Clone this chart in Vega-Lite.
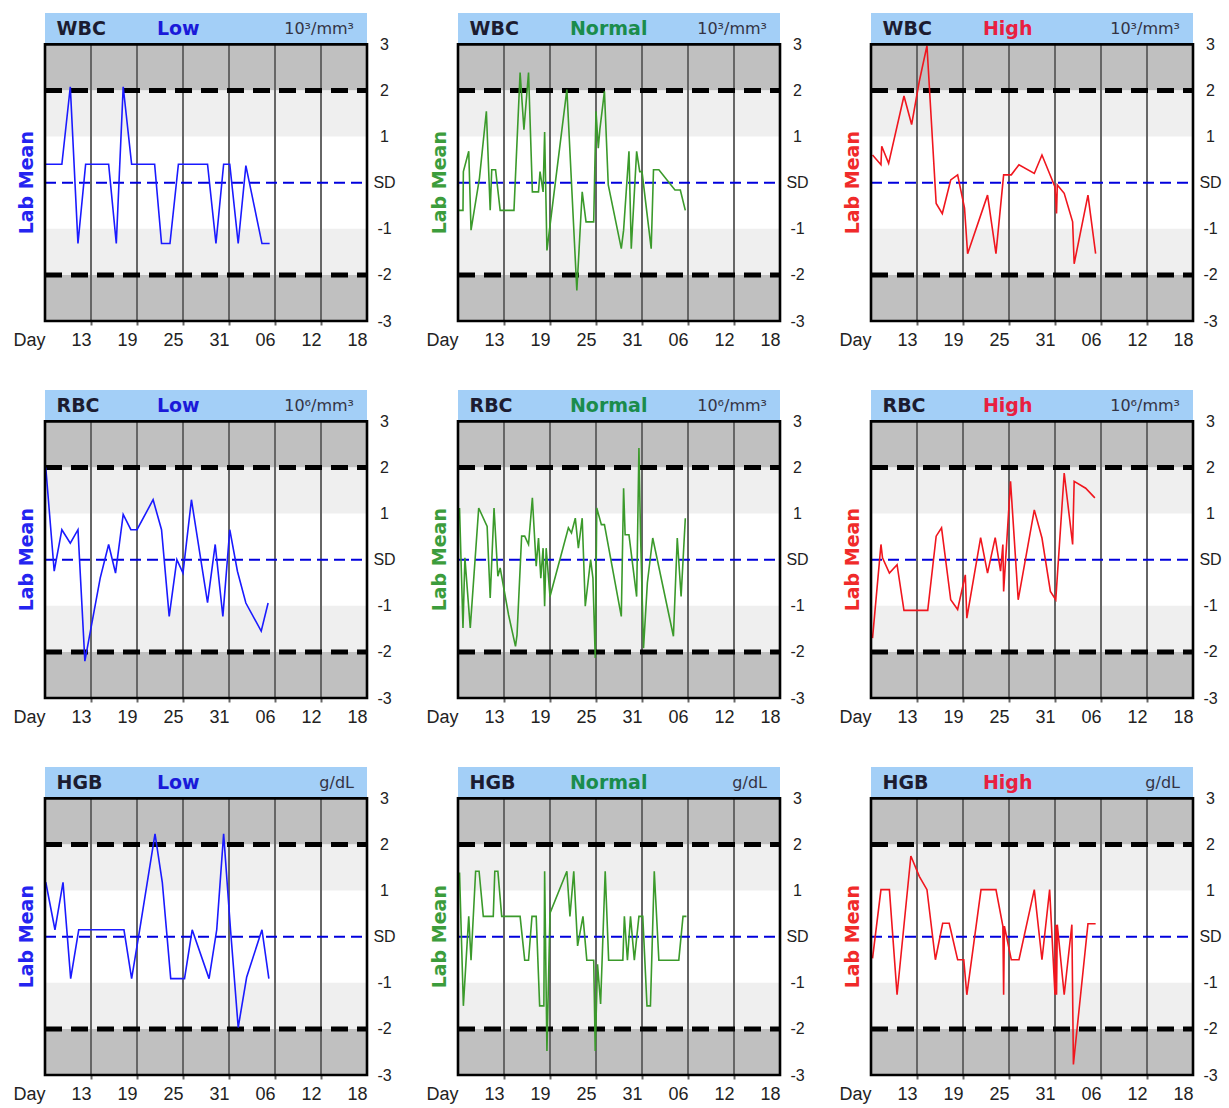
{
  "$schema": "https://vega.github.io/schema/vega-lite/v6.json",
  "padding": {"top": 13, "left": 12, "right": 2, "bottom": 2},
  "background": "white",
  "spacing": 41,
  "config": {
    "font": "Liberation Sans",
    "view": {"stroke": null},
    "axisX": {"labelAlign": "right", "labelDx": 3, "labelFontSize": 18, "labelColor": "#222222", "tickWidth": 2, "tickSize": 4, "labelPadding": 6, "labelFlush": false, "labelOverlap": false, "domain": false, "grid": false},
    "axisY": {"ticks": false, "tickSize": 0, "labelAlign": "center", "labelBaseline": "middle", "labelFontSize": 16, "labelColor": "#222222", "labelPadding": 17, "labelFlush": false, "labelOverlap": false, "domain": false, "grid": false}
  },
  "datasets": {
    "bands": [
      {"lo": 2, "hi": 3, "zone": "outer"},
      {"lo": -3, "hi": -2, "zone": "outer"},
      {"lo": 1, "hi": 2, "zone": "inner"},
      {"lo": -2, "hi": -1, "zone": "inner"}
    ],
    "days": [{"day": 13}, {"day": 19}, {"day": 25}, {"day": 31}, {"day": 37}, {"day": 43}],
    "refs": [{"sd": 2, "kind": "limit"}, {"sd": -2, "kind": "limit"}, {"sd": 0, "kind": "mean"}],
    "panels": [
      {"lab": "WBC", "level": "Low", "unit": "10³/mm³"},
      {"lab": "WBC", "level": "Normal", "unit": "10³/mm³"},
      {"lab": "WBC", "level": "High", "unit": "10³/mm³"},
      {"lab": "RBC", "level": "Low", "unit": "10⁶/mm³"},
      {"lab": "RBC", "level": "Normal", "unit": "10⁶/mm³"},
      {"lab": "RBC", "level": "High", "unit": "10⁶/mm³"},
      {"lab": "HGB", "level": "Low", "unit": "g/dL"},
      {"lab": "HGB", "level": "Normal", "unit": "g/dL"},
      {"lab": "HGB", "level": "High", "unit": "g/dL"}
    ],
    "WBC_Low": [
      {"day": 7, "z": 0.4}, {"day": 9.2, "z": 0.4}, {"day": 10.3, "z": 2.08}, {"day": 11.3, "z": -1.32}, {"day": 12.3, "z": 0.4}, {"day": 15.3, "z": 0.4}, {"day": 16.3, "z": -1.32}, {"day": 17.2, "z": 2.08}, {"day": 18.3, "z": 0.4}, {"day": 21.3, "z": 0.4}, {"day": 22.2, "z": -1.32}, {"day": 23.3, "z": -1.32}, {"day": 24.4, "z": 0.4}, {"day": 28.2, "z": 0.4}, {"day": 29.3, "z": -1.32}, {"day": 30.3, "z": 0.4}, {"day": 31.1, "z": 0.4}, {"day": 32.2, "z": -1.32}, {"day": 33.2, "z": 0.37}, {"day": 35.3, "z": -1.32}, {"day": 36.3, "z": -1.32}
    ],
    "WBC_Normal": [
      {"day": 7, "z": -0.6}, {"day": 7.65, "z": -0.6}, {"day": 7.7, "z": 0.24}, {"day": 8.4, "z": 0.68}, {"day": 8.7, "z": -1.03}, {"day": 9.8, "z": 0.1}, {"day": 10.7, "z": 1.55}, {"day": 11.2, "z": -0.6}, {"day": 11.4, "z": 0.28}, {"day": 11.9, "z": 0.28}, {"day": 12.5, "z": -0.6}, {"day": 14.3, "z": -0.6}, {"day": 15.1, "z": 2.39}, {"day": 15.6, "z": 1.15}, {"day": 16.2, "z": 2.39}, {"day": 16.7, "z": -0.2}, {"day": 17.5, "z": -0.2}, {"day": 17.7, "z": 0.24}, {"day": 18.1, "z": -0.2}, {"day": 18.3, "z": 1.1}, {"day": 18.6, "z": -1.47}, {"day": 21.2, "z": 2.02}, {"day": 22.5, "z": -2.34}, {"day": 23.2, "z": -0.2}, {"day": 23.7, "z": -0.85}, {"day": 24.7, "z": -0.85}, {"day": 25.0, "z": 1.55}, {"day": 25.3, "z": 0.75}, {"day": 25.5, "z": 1.15}, {"day": 26.1, "z": 1.98}, {"day": 26.6, "z": -0.05}, {"day": 28.3, "z": -1.43}, {"day": 28.6, "z": -1.03}, {"day": 29.3, "z": 0.68}, {"day": 29.6, "z": -1.43}, {"day": 30.3, "z": 0.68}, {"day": 30.7, "z": 0.24}, {"day": 31.0, "z": 0.24}, {"day": 32.2, "z": -1.43}, {"day": 32.5, "z": 0.28}, {"day": 33.2, "z": 0.28}, {"day": 35.3, "z": -0.16}, {"day": 36.0, "z": -0.16}, {"day": 36.65, "z": -0.6}
    ],
    "WBC_High": [
      {"day": 7.2, "z": 0.6}, {"day": 8.3, "z": 0.39}, {"day": 8.4, "z": 0.79}, {"day": 9.3, "z": 0.42}, {"day": 11.3, "z": 1.88}, {"day": 12.3, "z": 1.26}, {"day": 13.3, "z": 2.2}, {"day": 14.3, "z": 2.97}, {"day": 15.5, "z": -0.45}, {"day": 16.3, "z": -0.67}, {"day": 17.4, "z": 0.06}, {"day": 18.3, "z": 0.17}, {"day": 19.2, "z": -0.55}, {"day": 19.6, "z": -1.54}, {"day": 22.2, "z": -0.27}, {"day": 23.3, "z": -1.54}, {"day": 24.3, "z": 0.17}, {"day": 25.3, "z": 0.17}, {"day": 26.3, "z": 0.39}, {"day": 28.3, "z": 0.2}, {"day": 29.3, "z": 0.6}, {"day": 31.0, "z": -0.09}, {"day": 31.2, "z": -0.67}, {"day": 31.3, "z": -0.05}, {"day": 32.2, "z": -0.23}, {"day": 33.3, "z": -0.85}, {"day": 33.5, "z": -1.76}, {"day": 35.3, "z": -0.27}, {"day": 36.3, "z": -1.54}
    ],
    "RBC_Low": [
      {"day": 7.1, "z": 2.0}, {"day": 8.2, "z": -0.25}, {"day": 9.2, "z": 0.65}, {"day": 10.3, "z": 0.36}, {"day": 11.3, "z": 0.65}, {"day": 12.2, "z": -2.2}, {"day": 14.2, "z": -0.4}, {"day": 15.3, "z": 0.33}, {"day": 16.2, "z": -0.29}, {"day": 17.2, "z": 0.98}, {"day": 18.2, "z": 0.65}, {"day": 19.0, "z": 0.65}, {"day": 21.1, "z": 1.3}, {"day": 22.2, "z": 0.65}, {"day": 23.2, "z": -1.23}, {"day": 24.2, "z": 0.0}, {"day": 25.0, "z": -0.29}, {"day": 26.1, "z": 1.3}, {"day": 28.2, "z": -0.93}, {"day": 29.2, "z": 0.33}, {"day": 30.2, "z": -1.23}, {"day": 31.1, "z": 0.65}, {"day": 32.1, "z": -0.25}, {"day": 33.2, "z": -0.94}, {"day": 35.2, "z": -1.55}, {"day": 36.1, "z": -0.94}
    ],
    "RBC_Normal": [
      {"day": 7.2, "z": 1.12}, {"day": 7.65, "z": -1.48}, {"day": 7.9, "z": 0.04}, {"day": 8.6, "z": -1.48}, {"day": 9.7, "z": 1.12}, {"day": 10.8, "z": 0.72}, {"day": 11.2, "z": -0.83}, {"day": 11.7, "z": 1.12}, {"day": 12.2, "z": -0.36}, {"day": 12.5, "z": -0.18}, {"day": 13.6, "z": -1.2}, {"day": 14.5, "z": -1.88}, {"day": 14.7, "z": -1.63}, {"day": 15.3, "z": 0.51}, {"day": 15.7, "z": 0.51}, {"day": 16.2, "z": 0.33}, {"day": 16.7, "z": 1.34}, {"day": 17.2, "z": -0.14}, {"day": 17.5, "z": 0.47}, {"day": 17.8, "z": -0.4}, {"day": 18.1, "z": 0.25}, {"day": 18.3, "z": -1.01}, {"day": 18.5, "z": 0.25}, {"day": 19.0, "z": -0.8}, {"day": 21.4, "z": 0.69}, {"day": 21.8, "z": 0.58}, {"day": 22.3, "z": 0.9}, {"day": 22.7, "z": 0.25}, {"day": 23.2, "z": 0.9}, {"day": 23.6, "z": -1.01}, {"day": 24.3, "z": 0.0}, {"day": 24.6, "z": -0.4}, {"day": 24.9, "z": -2.13}, {"day": 25.1, "z": 1.12}, {"day": 25.7, "z": 0.76}, {"day": 26.1, "z": 0.76}, {"day": 28.3, "z": -1.23}, {"day": 28.6, "z": 1.55}, {"day": 28.8, "z": 0.54}, {"day": 29.3, "z": 0.54}, {"day": 30.3, "z": -0.8}, {"day": 30.6, "z": 2.42}, {"day": 30.8, "z": 0.6}, {"day": 31.2, "z": -1.92}, {"day": 31.7, "z": -0.5}, {"day": 32.4, "z": 0.47}, {"day": 35.1, "z": -1.66}, {"day": 35.6, "z": 0.47}, {"day": 36.1, "z": -0.8}, {"day": 36.65, "z": 0.9}
    ],
    "RBC_High": [
      {"day": 7.2, "z": -1.7}, {"day": 8.3, "z": 0.33}, {"day": 8.5, "z": 0.04}, {"day": 9.4, "z": -0.29}, {"day": 10.4, "z": -0.11}, {"day": 11.3, "z": -1.1}, {"day": 14.4, "z": -1.1}, {"day": 15.5, "z": 0.51}, {"day": 16.2, "z": 0.69}, {"day": 17.4, "z": -0.87}, {"day": 18.3, "z": -1.08}, {"day": 19.3, "z": -0.33}, {"day": 19.5, "z": -1.27}, {"day": 21.3, "z": 0.48}, {"day": 22.2, "z": -0.29}, {"day": 23.2, "z": 0.48}, {"day": 23.9, "z": -0.25}, {"day": 24.2, "z": 0.33}, {"day": 24.3, "z": -0.69}, {"day": 25.2, "z": 1.7}, {"day": 26.2, "z": -0.87}, {"day": 28.3, "z": 1.08}, {"day": 29.3, "z": 0.47}, {"day": 30.4, "z": -0.69}, {"day": 31.1, "z": -0.87}, {"day": 32.2, "z": 1.88}, {"day": 33.3, "z": 0.33}, {"day": 33.5, "z": 1.7}, {"day": 35.0, "z": 1.55}, {"day": 36.2, "z": 1.34}
    ],
    "HGB_Low": [
      {"day": 7.1, "z": 1.18}, {"day": 8.3, "z": 0.15}, {"day": 9.35, "z": 1.18}, {"day": 10.35, "z": -0.91}, {"day": 11.4, "z": 0.15}, {"day": 17.3, "z": 0.15}, {"day": 18.3, "z": -0.91}, {"day": 19.4, "z": 0.2}, {"day": 21.35, "z": 2.23}, {"day": 22.3, "z": 1.18}, {"day": 23.4, "z": -0.91}, {"day": 25.2, "z": -0.91}, {"day": 26.2, "z": 0.15}, {"day": 28.4, "z": -0.91}, {"day": 29.4, "z": 0.15}, {"day": 30.3, "z": 2.23}, {"day": 31.2, "z": 0.15}, {"day": 32.2, "z": -1.97}, {"day": 33.3, "z": -0.88}, {"day": 35.3, "z": 0.15}, {"day": 36.2, "z": -0.91}
    ],
    "HGB_Normal": [
      {"day": 7.2, "z": 1.39}, {"day": 7.7, "z": -1.5}, {"day": 8.4, "z": 0.44}, {"day": 8.7, "z": -0.51}, {"day": 9.3, "z": 1.42}, {"day": 9.75, "z": 1.42}, {"day": 10.3, "z": 0.44}, {"day": 11.6, "z": 0.44}, {"day": 11.8, "z": 1.42}, {"day": 12.2, "z": 1.42}, {"day": 12.7, "z": 0.44}, {"day": 15.1, "z": 0.44}, {"day": 15.7, "z": -0.51}, {"day": 16.2, "z": -0.51}, {"day": 16.65, "z": 0.44}, {"day": 17.2, "z": 0.44}, {"day": 17.65, "z": -1.5}, {"day": 18.2, "z": -1.5}, {"day": 18.3, "z": 1.42}, {"day": 18.6, "z": -2.48}, {"day": 19.0, "z": 0.51}, {"day": 21.2, "z": 1.42}, {"day": 21.6, "z": 0.44}, {"day": 22.1, "z": 1.42}, {"day": 22.6, "z": -0.2}, {"day": 23.3, "z": 0.44}, {"day": 23.8, "z": -0.51}, {"day": 24.7, "z": -0.51}, {"day": 24.9, "z": -2.48}, {"day": 25.2, "z": -0.6}, {"day": 25.6, "z": -1.46}, {"day": 26.2, "z": 1.42}, {"day": 26.65, "z": -0.51}, {"day": 28.5, "z": -0.51}, {"day": 28.7, "z": 0.44}, {"day": 29.1, "z": -0.51}, {"day": 29.5, "z": 0.44}, {"day": 30.0, "z": -0.51}, {"day": 30.6, "z": 0.44}, {"day": 31.1, "z": 0.44}, {"day": 31.65, "z": -1.5}, {"day": 32.1, "z": -1.5}, {"day": 32.6, "z": 1.42}, {"day": 33.2, "z": -0.51}, {"day": 35.8, "z": -0.51}, {"day": 36.35, "z": 0.44}, {"day": 36.8, "z": 0.44}
    ],
    "HGB_High": [
      {"day": 7.2, "z": -0.47}, {"day": 8.3, "z": 1.02}, {"day": 9.4, "z": 1.02}, {"day": 10.4, "z": -1.26}, {"day": 12.2, "z": 1.75}, {"day": 13.3, "z": 1.31}, {"day": 14.3, "z": 1.02}, {"day": 15.4, "z": -0.5}, {"day": 16.35, "z": 0.29}, {"day": 17.2, "z": 0.29}, {"day": 18.3, "z": -0.5}, {"day": 19.1, "z": -0.5}, {"day": 19.5, "z": -1.26}, {"day": 21.35, "z": 1.02}, {"day": 23.3, "z": 1.02}, {"day": 24.2, "z": 0.23}, {"day": 24.3, "z": -1.26}, {"day": 24.4, "z": 0.23}, {"day": 25.3, "z": -0.5}, {"day": 26.3, "z": -0.5}, {"day": 28.3, "z": 1.02}, {"day": 29.3, "z": -0.5}, {"day": 30.3, "z": 1.02}, {"day": 31.0, "z": -1.26}, {"day": 31.1, "z": 0.26}, {"day": 31.2, "z": -1.26}, {"day": 31.3, "z": 0.26}, {"day": 32.2, "z": -1.26}, {"day": 33.2, "z": 0.26}, {"day": 33.4, "z": -2.77}, {"day": 35.3, "z": 0.28}, {"day": 36.3, "z": 0.28}
    ]
  },
  "vconcat": [
    {"spacing": 29, "hconcat": [
      {"width": 322, "height": 308, "layer": [
        {"data": {"name": "bands"}, "mark": {"type": "rect"}, "encoding": {
          "x": {"datum": 7, "type": "quantitative", "scale": {"domain": [7, 49], "nice": false, "zero": false}, "axis": {"title": null, "values": [7, 13, 19, 25, 31, 37, 43, 49], "labelExpr": "datum.value == 7 ? 'Day' : datum.value == 37 ? '06' : datum.value == 43 ? '12' : datum.value == 49 ? '18' : datum.label", "tickColor": {"condition": {"test": "datum.value == 7 || datum.value == 49", "value": "transparent"}, "value": "#666666"}}},
          "x2": {"datum": 49},
          "y": {"field": "lo", "type": "quantitative", "title": null, "scale": {"domain": [-3, 3.68], "nice": false, "zero": false}, "axis": {"title": null, "orient": "right", "values": [-3, -2, -1, 0, 1, 2, 3], "labelExpr": "datum.value == 0 ? 'SD' : datum.value < 0 ? '-' + (-datum.value) : '' + datum.value"}},
          "y2": {"field": "hi"},
          "fill": {"field": "zone", "type": "nominal", "scale": {"domain": ["outer", "inner"], "range": ["#c0c0c0", "#efefef"]}, "legend": null}}},
        {"data": {"name": "days"}, "mark": {"type": "rule", "color": "#666666", "strokeWidth": 2}, "encoding": {"x": {"field": "day", "type": "quantitative", "title": null}, "y": {"datum": -3}, "y2": {"datum": 3}}},
        {"data": {"name": "refs"}, "transform": [{"filter": "datum.kind == 'limit'"}], "mark": {"type": "rule", "color": "#000000", "strokeWidth": 5, "strokeDash": [17, 9]}, "encoding": {"x": {"datum": 7}, "x2": {"datum": 49}, "y": {"field": "sd", "type": "quantitative", "title": null}}},
        {"data": {"name": "refs"}, "transform": [{"filter": "datum.kind == 'mean'"}], "mark": {"type": "rule", "color": "#0000dd", "strokeWidth": 2, "strokeDash": [11, 6]}, "encoding": {"x": {"datum": 7}, "x2": {"datum": 49}, "y": {"field": "sd", "type": "quantitative", "title": null}}},
        {"data": {"name": "WBC_Low"}, "mark": {"type": "line", "color": "#1a1aff", "strokeWidth": 1.6}, "encoding": {"x": {"field": "day", "type": "quantitative", "title": null}, "y": {"field": "z", "type": "quantitative", "title": null}}},
        {"data": {"name": "panels"}, "transform": [{"filter": "datum.lab == 'WBC' && datum.level == 'Low'"}], "layer": [
          {"mark": {"type": "rect", "color": "#a3cff7"}, "encoding": {"x": {"datum": 7}, "x2": {"datum": 49}, "y": {"datum": 3}, "y2": {"datum": 3.68}}},
          {"mark": {"type": "text", "align": "left", "baseline": "middle", "font": "DejaVu Sans", "fontSize": 19, "fontWeight": "bold", "color": "#1c1c30"}, "encoding": {"x": {"datum": 8.5}, "y": {"datum": 3.34}, "text": {"field": "lab"}}},
          {"mark": {"type": "text", "align": "left", "baseline": "middle", "font": "DejaVu Sans", "fontSize": 19, "fontWeight": "bold", "color": "#1a1ad9"}, "encoding": {"x": {"datum": 21.6}, "y": {"datum": 3.34}, "text": {"field": "level"}}},
          {"mark": {"type": "text", "align": "right", "baseline": "middle", "font": "DejaVu Sans", "fontSize": 16, "color": "#333344"}, "encoding": {"x": {"datum": 47.3}, "y": {"datum": 3.34}, "text": {"field": "unit"}}},
          {"mark": {"type": "text", "angle": 270, "align": "center", "baseline": "middle", "font": "DejaVu Sans", "fontSize": 19, "fontWeight": "bold", "color": "#2424f0"}, "encoding": {"x": {"datum": 4.65}, "y": {"datum": 0}, "text": {"value": "Lab Mean"}}},
          {"mark": {"type": "rect", "fill": "transparent", "stroke": "#000000", "strokeWidth": 2.6}, "encoding": {"x": {"datum": 7}, "x2": {"datum": 49}, "y": {"datum": -3}, "y2": {"datum": 3}}}
        ]}
      ]},
      {"width": 322, "height": 308, "layer": [
        {"data": {"name": "bands"}, "mark": {"type": "rect"}, "encoding": {
          "x": {"datum": 7, "type": "quantitative", "scale": {"domain": [7, 49], "nice": false, "zero": false}, "axis": {"title": null, "values": [7, 13, 19, 25, 31, 37, 43, 49], "labelExpr": "datum.value == 7 ? 'Day' : datum.value == 37 ? '06' : datum.value == 43 ? '12' : datum.value == 49 ? '18' : datum.label", "tickColor": {"condition": {"test": "datum.value == 7 || datum.value == 49", "value": "transparent"}, "value": "#666666"}}},
          "x2": {"datum": 49},
          "y": {"field": "lo", "type": "quantitative", "title": null, "scale": {"domain": [-3, 3.68], "nice": false, "zero": false}, "axis": {"title": null, "orient": "right", "values": [-3, -2, -1, 0, 1, 2, 3], "labelExpr": "datum.value == 0 ? 'SD' : datum.value < 0 ? '-' + (-datum.value) : '' + datum.value"}},
          "y2": {"field": "hi"},
          "fill": {"field": "zone", "type": "nominal", "scale": {"domain": ["outer", "inner"], "range": ["#c0c0c0", "#efefef"]}, "legend": null}}},
        {"data": {"name": "days"}, "mark": {"type": "rule", "color": "#666666", "strokeWidth": 2}, "encoding": {"x": {"field": "day", "type": "quantitative", "title": null}, "y": {"datum": -3}, "y2": {"datum": 3}}},
        {"data": {"name": "refs"}, "transform": [{"filter": "datum.kind == 'limit'"}], "mark": {"type": "rule", "color": "#000000", "strokeWidth": 5, "strokeDash": [17, 9]}, "encoding": {"x": {"datum": 7}, "x2": {"datum": 49}, "y": {"field": "sd", "type": "quantitative", "title": null}}},
        {"data": {"name": "refs"}, "transform": [{"filter": "datum.kind == 'mean'"}], "mark": {"type": "rule", "color": "#0000dd", "strokeWidth": 2, "strokeDash": [11, 6]}, "encoding": {"x": {"datum": 7}, "x2": {"datum": 49}, "y": {"field": "sd", "type": "quantitative", "title": null}}},
        {"data": {"name": "WBC_Normal"}, "mark": {"type": "line", "color": "#3b9a2b", "strokeWidth": 1.6}, "encoding": {"x": {"field": "day", "type": "quantitative", "title": null}, "y": {"field": "z", "type": "quantitative", "title": null}}},
        {"data": {"name": "panels"}, "transform": [{"filter": "datum.lab == 'WBC' && datum.level == 'Normal'"}], "layer": [
          {"mark": {"type": "rect", "color": "#a3cff7"}, "encoding": {"x": {"datum": 7}, "x2": {"datum": 49}, "y": {"datum": 3}, "y2": {"datum": 3.68}}},
          {"mark": {"type": "text", "align": "left", "baseline": "middle", "font": "DejaVu Sans", "fontSize": 19, "fontWeight": "bold", "color": "#1c1c30"}, "encoding": {"x": {"datum": 8.5}, "y": {"datum": 3.34}, "text": {"field": "lab"}}},
          {"mark": {"type": "text", "align": "left", "baseline": "middle", "font": "DejaVu Sans", "fontSize": 19, "fontWeight": "bold", "color": "#1a8c4c"}, "encoding": {"x": {"datum": 21.6}, "y": {"datum": 3.34}, "text": {"field": "level"}}},
          {"mark": {"type": "text", "align": "right", "baseline": "middle", "font": "DejaVu Sans", "fontSize": 16, "color": "#333344"}, "encoding": {"x": {"datum": 47.3}, "y": {"datum": 3.34}, "text": {"field": "unit"}}},
          {"mark": {"type": "text", "angle": 270, "align": "center", "baseline": "middle", "font": "DejaVu Sans", "fontSize": 19, "fontWeight": "bold", "color": "#3c9c3c"}, "encoding": {"x": {"datum": 4.65}, "y": {"datum": 0}, "text": {"value": "Lab Mean"}}},
          {"mark": {"type": "rect", "fill": "transparent", "stroke": "#000000", "strokeWidth": 2.6}, "encoding": {"x": {"datum": 7}, "x2": {"datum": 49}, "y": {"datum": -3}, "y2": {"datum": 3}}}
        ]}
      ]},
      {"width": 322, "height": 308, "layer": [
        {"data": {"name": "bands"}, "mark": {"type": "rect"}, "encoding": {
          "x": {"datum": 7, "type": "quantitative", "scale": {"domain": [7, 49], "nice": false, "zero": false}, "axis": {"title": null, "values": [7, 13, 19, 25, 31, 37, 43, 49], "labelExpr": "datum.value == 7 ? 'Day' : datum.value == 37 ? '06' : datum.value == 43 ? '12' : datum.value == 49 ? '18' : datum.label", "tickColor": {"condition": {"test": "datum.value == 7 || datum.value == 49", "value": "transparent"}, "value": "#666666"}}},
          "x2": {"datum": 49},
          "y": {"field": "lo", "type": "quantitative", "title": null, "scale": {"domain": [-3, 3.68], "nice": false, "zero": false}, "axis": {"title": null, "orient": "right", "values": [-3, -2, -1, 0, 1, 2, 3], "labelExpr": "datum.value == 0 ? 'SD' : datum.value < 0 ? '-' + (-datum.value) : '' + datum.value"}},
          "y2": {"field": "hi"},
          "fill": {"field": "zone", "type": "nominal", "scale": {"domain": ["outer", "inner"], "range": ["#c0c0c0", "#efefef"]}, "legend": null}}},
        {"data": {"name": "days"}, "mark": {"type": "rule", "color": "#666666", "strokeWidth": 2}, "encoding": {"x": {"field": "day", "type": "quantitative", "title": null}, "y": {"datum": -3}, "y2": {"datum": 3}}},
        {"data": {"name": "refs"}, "transform": [{"filter": "datum.kind == 'limit'"}], "mark": {"type": "rule", "color": "#000000", "strokeWidth": 5, "strokeDash": [17, 9]}, "encoding": {"x": {"datum": 7}, "x2": {"datum": 49}, "y": {"field": "sd", "type": "quantitative", "title": null}}},
        {"data": {"name": "refs"}, "transform": [{"filter": "datum.kind == 'mean'"}], "mark": {"type": "rule", "color": "#0000dd", "strokeWidth": 2, "strokeDash": [11, 6]}, "encoding": {"x": {"datum": 7}, "x2": {"datum": 49}, "y": {"field": "sd", "type": "quantitative", "title": null}}},
        {"data": {"name": "WBC_High"}, "mark": {"type": "line", "color": "#f0161e", "strokeWidth": 1.6}, "encoding": {"x": {"field": "day", "type": "quantitative", "title": null}, "y": {"field": "z", "type": "quantitative", "title": null}}},
        {"data": {"name": "panels"}, "transform": [{"filter": "datum.lab == 'WBC' && datum.level == 'High'"}], "layer": [
          {"mark": {"type": "rect", "color": "#a3cff7"}, "encoding": {"x": {"datum": 7}, "x2": {"datum": 49}, "y": {"datum": 3}, "y2": {"datum": 3.68}}},
          {"mark": {"type": "text", "align": "left", "baseline": "middle", "font": "DejaVu Sans", "fontSize": 19, "fontWeight": "bold", "color": "#1c1c30"}, "encoding": {"x": {"datum": 8.5}, "y": {"datum": 3.34}, "text": {"field": "lab"}}},
          {"mark": {"type": "text", "align": "left", "baseline": "middle", "font": "DejaVu Sans", "fontSize": 19, "fontWeight": "bold", "color": "#e82040"}, "encoding": {"x": {"datum": 21.6}, "y": {"datum": 3.34}, "text": {"field": "level"}}},
          {"mark": {"type": "text", "align": "right", "baseline": "middle", "font": "DejaVu Sans", "fontSize": 16, "color": "#333344"}, "encoding": {"x": {"datum": 47.3}, "y": {"datum": 3.34}, "text": {"field": "unit"}}},
          {"mark": {"type": "text", "angle": 270, "align": "center", "baseline": "middle", "font": "DejaVu Sans", "fontSize": 19, "fontWeight": "bold", "color": "#f02a2a"}, "encoding": {"x": {"datum": 4.65}, "y": {"datum": 0}, "text": {"value": "Lab Mean"}}},
          {"mark": {"type": "rect", "fill": "transparent", "stroke": "#000000", "strokeWidth": 2.6}, "encoding": {"x": {"datum": 7}, "x2": {"datum": 49}, "y": {"datum": -3}, "y2": {"datum": 3}}}
        ]}
      ]}
    ]},
    {"spacing": 29, "hconcat": [
      {"width": 322, "height": 308, "layer": [
        {"data": {"name": "bands"}, "mark": {"type": "rect"}, "encoding": {
          "x": {"datum": 7, "type": "quantitative", "scale": {"domain": [7, 49], "nice": false, "zero": false}, "axis": {"title": null, "values": [7, 13, 19, 25, 31, 37, 43, 49], "labelExpr": "datum.value == 7 ? 'Day' : datum.value == 37 ? '06' : datum.value == 43 ? '12' : datum.value == 49 ? '18' : datum.label", "tickColor": {"condition": {"test": "datum.value == 7 || datum.value == 49", "value": "transparent"}, "value": "#666666"}}},
          "x2": {"datum": 49},
          "y": {"field": "lo", "type": "quantitative", "title": null, "scale": {"domain": [-3, 3.68], "nice": false, "zero": false}, "axis": {"title": null, "orient": "right", "values": [-3, -2, -1, 0, 1, 2, 3], "labelExpr": "datum.value == 0 ? 'SD' : datum.value < 0 ? '-' + (-datum.value) : '' + datum.value"}},
          "y2": {"field": "hi"},
          "fill": {"field": "zone", "type": "nominal", "scale": {"domain": ["outer", "inner"], "range": ["#c0c0c0", "#efefef"]}, "legend": null}}},
        {"data": {"name": "days"}, "mark": {"type": "rule", "color": "#666666", "strokeWidth": 2}, "encoding": {"x": {"field": "day", "type": "quantitative", "title": null}, "y": {"datum": -3}, "y2": {"datum": 3}}},
        {"data": {"name": "refs"}, "transform": [{"filter": "datum.kind == 'limit'"}], "mark": {"type": "rule", "color": "#000000", "strokeWidth": 5, "strokeDash": [17, 9]}, "encoding": {"x": {"datum": 7}, "x2": {"datum": 49}, "y": {"field": "sd", "type": "quantitative", "title": null}}},
        {"data": {"name": "refs"}, "transform": [{"filter": "datum.kind == 'mean'"}], "mark": {"type": "rule", "color": "#0000dd", "strokeWidth": 2, "strokeDash": [11, 6]}, "encoding": {"x": {"datum": 7}, "x2": {"datum": 49}, "y": {"field": "sd", "type": "quantitative", "title": null}}},
        {"data": {"name": "RBC_Low"}, "mark": {"type": "line", "color": "#1a1aff", "strokeWidth": 1.6}, "encoding": {"x": {"field": "day", "type": "quantitative", "title": null}, "y": {"field": "z", "type": "quantitative", "title": null}}},
        {"data": {"name": "panels"}, "transform": [{"filter": "datum.lab == 'RBC' && datum.level == 'Low'"}], "layer": [
          {"mark": {"type": "rect", "color": "#a3cff7"}, "encoding": {"x": {"datum": 7}, "x2": {"datum": 49}, "y": {"datum": 3}, "y2": {"datum": 3.68}}},
          {"mark": {"type": "text", "align": "left", "baseline": "middle", "font": "DejaVu Sans", "fontSize": 19, "fontWeight": "bold", "color": "#1c1c30"}, "encoding": {"x": {"datum": 8.5}, "y": {"datum": 3.34}, "text": {"field": "lab"}}},
          {"mark": {"type": "text", "align": "left", "baseline": "middle", "font": "DejaVu Sans", "fontSize": 19, "fontWeight": "bold", "color": "#1a1ad9"}, "encoding": {"x": {"datum": 21.6}, "y": {"datum": 3.34}, "text": {"field": "level"}}},
          {"mark": {"type": "text", "align": "right", "baseline": "middle", "font": "DejaVu Sans", "fontSize": 16, "color": "#333344"}, "encoding": {"x": {"datum": 47.3}, "y": {"datum": 3.34}, "text": {"field": "unit"}}},
          {"mark": {"type": "text", "angle": 270, "align": "center", "baseline": "middle", "font": "DejaVu Sans", "fontSize": 19, "fontWeight": "bold", "color": "#2424f0"}, "encoding": {"x": {"datum": 4.65}, "y": {"datum": 0}, "text": {"value": "Lab Mean"}}},
          {"mark": {"type": "rect", "fill": "transparent", "stroke": "#000000", "strokeWidth": 2.6}, "encoding": {"x": {"datum": 7}, "x2": {"datum": 49}, "y": {"datum": -3}, "y2": {"datum": 3}}}
        ]}
      ]},
      {"width": 322, "height": 308, "layer": [
        {"data": {"name": "bands"}, "mark": {"type": "rect"}, "encoding": {
          "x": {"datum": 7, "type": "quantitative", "scale": {"domain": [7, 49], "nice": false, "zero": false}, "axis": {"title": null, "values": [7, 13, 19, 25, 31, 37, 43, 49], "labelExpr": "datum.value == 7 ? 'Day' : datum.value == 37 ? '06' : datum.value == 43 ? '12' : datum.value == 49 ? '18' : datum.label", "tickColor": {"condition": {"test": "datum.value == 7 || datum.value == 49", "value": "transparent"}, "value": "#666666"}}},
          "x2": {"datum": 49},
          "y": {"field": "lo", "type": "quantitative", "title": null, "scale": {"domain": [-3, 3.68], "nice": false, "zero": false}, "axis": {"title": null, "orient": "right", "values": [-3, -2, -1, 0, 1, 2, 3], "labelExpr": "datum.value == 0 ? 'SD' : datum.value < 0 ? '-' + (-datum.value) : '' + datum.value"}},
          "y2": {"field": "hi"},
          "fill": {"field": "zone", "type": "nominal", "scale": {"domain": ["outer", "inner"], "range": ["#c0c0c0", "#efefef"]}, "legend": null}}},
        {"data": {"name": "days"}, "mark": {"type": "rule", "color": "#666666", "strokeWidth": 2}, "encoding": {"x": {"field": "day", "type": "quantitative", "title": null}, "y": {"datum": -3}, "y2": {"datum": 3}}},
        {"data": {"name": "refs"}, "transform": [{"filter": "datum.kind == 'limit'"}], "mark": {"type": "rule", "color": "#000000", "strokeWidth": 5, "strokeDash": [17, 9]}, "encoding": {"x": {"datum": 7}, "x2": {"datum": 49}, "y": {"field": "sd", "type": "quantitative", "title": null}}},
        {"data": {"name": "refs"}, "transform": [{"filter": "datum.kind == 'mean'"}], "mark": {"type": "rule", "color": "#0000dd", "strokeWidth": 2, "strokeDash": [11, 6]}, "encoding": {"x": {"datum": 7}, "x2": {"datum": 49}, "y": {"field": "sd", "type": "quantitative", "title": null}}},
        {"data": {"name": "RBC_Normal"}, "mark": {"type": "line", "color": "#3b9a2b", "strokeWidth": 1.6}, "encoding": {"x": {"field": "day", "type": "quantitative", "title": null}, "y": {"field": "z", "type": "quantitative", "title": null}}},
        {"data": {"name": "panels"}, "transform": [{"filter": "datum.lab == 'RBC' && datum.level == 'Normal'"}], "layer": [
          {"mark": {"type": "rect", "color": "#a3cff7"}, "encoding": {"x": {"datum": 7}, "x2": {"datum": 49}, "y": {"datum": 3}, "y2": {"datum": 3.68}}},
          {"mark": {"type": "text", "align": "left", "baseline": "middle", "font": "DejaVu Sans", "fontSize": 19, "fontWeight": "bold", "color": "#1c1c30"}, "encoding": {"x": {"datum": 8.5}, "y": {"datum": 3.34}, "text": {"field": "lab"}}},
          {"mark": {"type": "text", "align": "left", "baseline": "middle", "font": "DejaVu Sans", "fontSize": 19, "fontWeight": "bold", "color": "#1a8c4c"}, "encoding": {"x": {"datum": 21.6}, "y": {"datum": 3.34}, "text": {"field": "level"}}},
          {"mark": {"type": "text", "align": "right", "baseline": "middle", "font": "DejaVu Sans", "fontSize": 16, "color": "#333344"}, "encoding": {"x": {"datum": 47.3}, "y": {"datum": 3.34}, "text": {"field": "unit"}}},
          {"mark": {"type": "text", "angle": 270, "align": "center", "baseline": "middle", "font": "DejaVu Sans", "fontSize": 19, "fontWeight": "bold", "color": "#3c9c3c"}, "encoding": {"x": {"datum": 4.65}, "y": {"datum": 0}, "text": {"value": "Lab Mean"}}},
          {"mark": {"type": "rect", "fill": "transparent", "stroke": "#000000", "strokeWidth": 2.6}, "encoding": {"x": {"datum": 7}, "x2": {"datum": 49}, "y": {"datum": -3}, "y2": {"datum": 3}}}
        ]}
      ]},
      {"width": 322, "height": 308, "layer": [
        {"data": {"name": "bands"}, "mark": {"type": "rect"}, "encoding": {
          "x": {"datum": 7, "type": "quantitative", "scale": {"domain": [7, 49], "nice": false, "zero": false}, "axis": {"title": null, "values": [7, 13, 19, 25, 31, 37, 43, 49], "labelExpr": "datum.value == 7 ? 'Day' : datum.value == 37 ? '06' : datum.value == 43 ? '12' : datum.value == 49 ? '18' : datum.label", "tickColor": {"condition": {"test": "datum.value == 7 || datum.value == 49", "value": "transparent"}, "value": "#666666"}}},
          "x2": {"datum": 49},
          "y": {"field": "lo", "type": "quantitative", "title": null, "scale": {"domain": [-3, 3.68], "nice": false, "zero": false}, "axis": {"title": null, "orient": "right", "values": [-3, -2, -1, 0, 1, 2, 3], "labelExpr": "datum.value == 0 ? 'SD' : datum.value < 0 ? '-' + (-datum.value) : '' + datum.value"}},
          "y2": {"field": "hi"},
          "fill": {"field": "zone", "type": "nominal", "scale": {"domain": ["outer", "inner"], "range": ["#c0c0c0", "#efefef"]}, "legend": null}}},
        {"data": {"name": "days"}, "mark": {"type": "rule", "color": "#666666", "strokeWidth": 2}, "encoding": {"x": {"field": "day", "type": "quantitative", "title": null}, "y": {"datum": -3}, "y2": {"datum": 3}}},
        {"data": {"name": "refs"}, "transform": [{"filter": "datum.kind == 'limit'"}], "mark": {"type": "rule", "color": "#000000", "strokeWidth": 5, "strokeDash": [17, 9]}, "encoding": {"x": {"datum": 7}, "x2": {"datum": 49}, "y": {"field": "sd", "type": "quantitative", "title": null}}},
        {"data": {"name": "refs"}, "transform": [{"filter": "datum.kind == 'mean'"}], "mark": {"type": "rule", "color": "#0000dd", "strokeWidth": 2, "strokeDash": [11, 6]}, "encoding": {"x": {"datum": 7}, "x2": {"datum": 49}, "y": {"field": "sd", "type": "quantitative", "title": null}}},
        {"data": {"name": "RBC_High"}, "mark": {"type": "line", "color": "#f0161e", "strokeWidth": 1.6}, "encoding": {"x": {"field": "day", "type": "quantitative", "title": null}, "y": {"field": "z", "type": "quantitative", "title": null}}},
        {"data": {"name": "panels"}, "transform": [{"filter": "datum.lab == 'RBC' && datum.level == 'High'"}], "layer": [
          {"mark": {"type": "rect", "color": "#a3cff7"}, "encoding": {"x": {"datum": 7}, "x2": {"datum": 49}, "y": {"datum": 3}, "y2": {"datum": 3.68}}},
          {"mark": {"type": "text", "align": "left", "baseline": "middle", "font": "DejaVu Sans", "fontSize": 19, "fontWeight": "bold", "color": "#1c1c30"}, "encoding": {"x": {"datum": 8.5}, "y": {"datum": 3.34}, "text": {"field": "lab"}}},
          {"mark": {"type": "text", "align": "left", "baseline": "middle", "font": "DejaVu Sans", "fontSize": 19, "fontWeight": "bold", "color": "#e82040"}, "encoding": {"x": {"datum": 21.6}, "y": {"datum": 3.34}, "text": {"field": "level"}}},
          {"mark": {"type": "text", "align": "right", "baseline": "middle", "font": "DejaVu Sans", "fontSize": 16, "color": "#333344"}, "encoding": {"x": {"datum": 47.3}, "y": {"datum": 3.34}, "text": {"field": "unit"}}},
          {"mark": {"type": "text", "angle": 270, "align": "center", "baseline": "middle", "font": "DejaVu Sans", "fontSize": 19, "fontWeight": "bold", "color": "#f02a2a"}, "encoding": {"x": {"datum": 4.65}, "y": {"datum": 0}, "text": {"value": "Lab Mean"}}},
          {"mark": {"type": "rect", "fill": "transparent", "stroke": "#000000", "strokeWidth": 2.6}, "encoding": {"x": {"datum": 7}, "x2": {"datum": 49}, "y": {"datum": -3}, "y2": {"datum": 3}}}
        ]}
      ]}
    ]},
    {"spacing": 29, "hconcat": [
      {"width": 322, "height": 308, "layer": [
        {"data": {"name": "bands"}, "mark": {"type": "rect"}, "encoding": {
          "x": {"datum": 7, "type": "quantitative", "scale": {"domain": [7, 49], "nice": false, "zero": false}, "axis": {"title": null, "values": [7, 13, 19, 25, 31, 37, 43, 49], "labelExpr": "datum.value == 7 ? 'Day' : datum.value == 37 ? '06' : datum.value == 43 ? '12' : datum.value == 49 ? '18' : datum.label", "tickColor": {"condition": {"test": "datum.value == 7 || datum.value == 49", "value": "transparent"}, "value": "#666666"}}},
          "x2": {"datum": 49},
          "y": {"field": "lo", "type": "quantitative", "title": null, "scale": {"domain": [-3, 3.68], "nice": false, "zero": false}, "axis": {"title": null, "orient": "right", "values": [-3, -2, -1, 0, 1, 2, 3], "labelExpr": "datum.value == 0 ? 'SD' : datum.value < 0 ? '-' + (-datum.value) : '' + datum.value"}},
          "y2": {"field": "hi"},
          "fill": {"field": "zone", "type": "nominal", "scale": {"domain": ["outer", "inner"], "range": ["#c0c0c0", "#efefef"]}, "legend": null}}},
        {"data": {"name": "days"}, "mark": {"type": "rule", "color": "#666666", "strokeWidth": 2}, "encoding": {"x": {"field": "day", "type": "quantitative", "title": null}, "y": {"datum": -3}, "y2": {"datum": 3}}},
        {"data": {"name": "refs"}, "transform": [{"filter": "datum.kind == 'limit'"}], "mark": {"type": "rule", "color": "#000000", "strokeWidth": 5, "strokeDash": [17, 9]}, "encoding": {"x": {"datum": 7}, "x2": {"datum": 49}, "y": {"field": "sd", "type": "quantitative", "title": null}}},
        {"data": {"name": "refs"}, "transform": [{"filter": "datum.kind == 'mean'"}], "mark": {"type": "rule", "color": "#0000dd", "strokeWidth": 2, "strokeDash": [11, 6]}, "encoding": {"x": {"datum": 7}, "x2": {"datum": 49}, "y": {"field": "sd", "type": "quantitative", "title": null}}},
        {"data": {"name": "HGB_Low"}, "mark": {"type": "line", "color": "#1a1aff", "strokeWidth": 1.6}, "encoding": {"x": {"field": "day", "type": "quantitative", "title": null}, "y": {"field": "z", "type": "quantitative", "title": null}}},
        {"data": {"name": "panels"}, "transform": [{"filter": "datum.lab == 'HGB' && datum.level == 'Low'"}], "layer": [
          {"mark": {"type": "rect", "color": "#a3cff7"}, "encoding": {"x": {"datum": 7}, "x2": {"datum": 49}, "y": {"datum": 3}, "y2": {"datum": 3.68}}},
          {"mark": {"type": "text", "align": "left", "baseline": "middle", "font": "DejaVu Sans", "fontSize": 19, "fontWeight": "bold", "color": "#1c1c30"}, "encoding": {"x": {"datum": 8.5}, "y": {"datum": 3.34}, "text": {"field": "lab"}}},
          {"mark": {"type": "text", "align": "left", "baseline": "middle", "font": "DejaVu Sans", "fontSize": 19, "fontWeight": "bold", "color": "#1a1ad9"}, "encoding": {"x": {"datum": 21.6}, "y": {"datum": 3.34}, "text": {"field": "level"}}},
          {"mark": {"type": "text", "align": "right", "baseline": "middle", "font": "DejaVu Sans", "fontSize": 16, "color": "#333344"}, "encoding": {"x": {"datum": 47.3}, "y": {"datum": 3.34}, "text": {"field": "unit"}}},
          {"mark": {"type": "text", "angle": 270, "align": "center", "baseline": "middle", "font": "DejaVu Sans", "fontSize": 19, "fontWeight": "bold", "color": "#2424f0"}, "encoding": {"x": {"datum": 4.65}, "y": {"datum": 0}, "text": {"value": "Lab Mean"}}},
          {"mark": {"type": "rect", "fill": "transparent", "stroke": "#000000", "strokeWidth": 2.6}, "encoding": {"x": {"datum": 7}, "x2": {"datum": 49}, "y": {"datum": -3}, "y2": {"datum": 3}}}
        ]}
      ]},
      {"width": 322, "height": 308, "layer": [
        {"data": {"name": "bands"}, "mark": {"type": "rect"}, "encoding": {
          "x": {"datum": 7, "type": "quantitative", "scale": {"domain": [7, 49], "nice": false, "zero": false}, "axis": {"title": null, "values": [7, 13, 19, 25, 31, 37, 43, 49], "labelExpr": "datum.value == 7 ? 'Day' : datum.value == 37 ? '06' : datum.value == 43 ? '12' : datum.value == 49 ? '18' : datum.label", "tickColor": {"condition": {"test": "datum.value == 7 || datum.value == 49", "value": "transparent"}, "value": "#666666"}}},
          "x2": {"datum": 49},
          "y": {"field": "lo", "type": "quantitative", "title": null, "scale": {"domain": [-3, 3.68], "nice": false, "zero": false}, "axis": {"title": null, "orient": "right", "values": [-3, -2, -1, 0, 1, 2, 3], "labelExpr": "datum.value == 0 ? 'SD' : datum.value < 0 ? '-' + (-datum.value) : '' + datum.value"}},
          "y2": {"field": "hi"},
          "fill": {"field": "zone", "type": "nominal", "scale": {"domain": ["outer", "inner"], "range": ["#c0c0c0", "#efefef"]}, "legend": null}}},
        {"data": {"name": "days"}, "mark": {"type": "rule", "color": "#666666", "strokeWidth": 2}, "encoding": {"x": {"field": "day", "type": "quantitative", "title": null}, "y": {"datum": -3}, "y2": {"datum": 3}}},
        {"data": {"name": "refs"}, "transform": [{"filter": "datum.kind == 'limit'"}], "mark": {"type": "rule", "color": "#000000", "strokeWidth": 5, "strokeDash": [17, 9]}, "encoding": {"x": {"datum": 7}, "x2": {"datum": 49}, "y": {"field": "sd", "type": "quantitative", "title": null}}},
        {"data": {"name": "refs"}, "transform": [{"filter": "datum.kind == 'mean'"}], "mark": {"type": "rule", "color": "#0000dd", "strokeWidth": 2, "strokeDash": [11, 6]}, "encoding": {"x": {"datum": 7}, "x2": {"datum": 49}, "y": {"field": "sd", "type": "quantitative", "title": null}}},
        {"data": {"name": "HGB_Normal"}, "mark": {"type": "line", "color": "#3b9a2b", "strokeWidth": 1.6}, "encoding": {"x": {"field": "day", "type": "quantitative", "title": null}, "y": {"field": "z", "type": "quantitative", "title": null}}},
        {"data": {"name": "panels"}, "transform": [{"filter": "datum.lab == 'HGB' && datum.level == 'Normal'"}], "layer": [
          {"mark": {"type": "rect", "color": "#a3cff7"}, "encoding": {"x": {"datum": 7}, "x2": {"datum": 49}, "y": {"datum": 3}, "y2": {"datum": 3.68}}},
          {"mark": {"type": "text", "align": "left", "baseline": "middle", "font": "DejaVu Sans", "fontSize": 19, "fontWeight": "bold", "color": "#1c1c30"}, "encoding": {"x": {"datum": 8.5}, "y": {"datum": 3.34}, "text": {"field": "lab"}}},
          {"mark": {"type": "text", "align": "left", "baseline": "middle", "font": "DejaVu Sans", "fontSize": 19, "fontWeight": "bold", "color": "#1a8c4c"}, "encoding": {"x": {"datum": 21.6}, "y": {"datum": 3.34}, "text": {"field": "level"}}},
          {"mark": {"type": "text", "align": "right", "baseline": "middle", "font": "DejaVu Sans", "fontSize": 16, "color": "#333344"}, "encoding": {"x": {"datum": 47.3}, "y": {"datum": 3.34}, "text": {"field": "unit"}}},
          {"mark": {"type": "text", "angle": 270, "align": "center", "baseline": "middle", "font": "DejaVu Sans", "fontSize": 19, "fontWeight": "bold", "color": "#3c9c3c"}, "encoding": {"x": {"datum": 4.65}, "y": {"datum": 0}, "text": {"value": "Lab Mean"}}},
          {"mark": {"type": "rect", "fill": "transparent", "stroke": "#000000", "strokeWidth": 2.6}, "encoding": {"x": {"datum": 7}, "x2": {"datum": 49}, "y": {"datum": -3}, "y2": {"datum": 3}}}
        ]}
      ]},
      {"width": 322, "height": 308, "layer": [
        {"data": {"name": "bands"}, "mark": {"type": "rect"}, "encoding": {
          "x": {"datum": 7, "type": "quantitative", "scale": {"domain": [7, 49], "nice": false, "zero": false}, "axis": {"title": null, "values": [7, 13, 19, 25, 31, 37, 43, 49], "labelExpr": "datum.value == 7 ? 'Day' : datum.value == 37 ? '06' : datum.value == 43 ? '12' : datum.value == 49 ? '18' : datum.label", "tickColor": {"condition": {"test": "datum.value == 7 || datum.value == 49", "value": "transparent"}, "value": "#666666"}}},
          "x2": {"datum": 49},
          "y": {"field": "lo", "type": "quantitative", "title": null, "scale": {"domain": [-3, 3.68], "nice": false, "zero": false}, "axis": {"title": null, "orient": "right", "values": [-3, -2, -1, 0, 1, 2, 3], "labelExpr": "datum.value == 0 ? 'SD' : datum.value < 0 ? '-' + (-datum.value) : '' + datum.value"}},
          "y2": {"field": "hi"},
          "fill": {"field": "zone", "type": "nominal", "scale": {"domain": ["outer", "inner"], "range": ["#c0c0c0", "#efefef"]}, "legend": null}}},
        {"data": {"name": "days"}, "mark": {"type": "rule", "color": "#666666", "strokeWidth": 2}, "encoding": {"x": {"field": "day", "type": "quantitative", "title": null}, "y": {"datum": -3}, "y2": {"datum": 3}}},
        {"data": {"name": "refs"}, "transform": [{"filter": "datum.kind == 'limit'"}], "mark": {"type": "rule", "color": "#000000", "strokeWidth": 5, "strokeDash": [17, 9]}, "encoding": {"x": {"datum": 7}, "x2": {"datum": 49}, "y": {"field": "sd", "type": "quantitative", "title": null}}},
        {"data": {"name": "refs"}, "transform": [{"filter": "datum.kind == 'mean'"}], "mark": {"type": "rule", "color": "#0000dd", "strokeWidth": 2, "strokeDash": [11, 6]}, "encoding": {"x": {"datum": 7}, "x2": {"datum": 49}, "y": {"field": "sd", "type": "quantitative", "title": null}}},
        {"data": {"name": "HGB_High"}, "mark": {"type": "line", "color": "#f0161e", "strokeWidth": 1.6}, "encoding": {"x": {"field": "day", "type": "quantitative", "title": null}, "y": {"field": "z", "type": "quantitative", "title": null}}},
        {"data": {"name": "panels"}, "transform": [{"filter": "datum.lab == 'HGB' && datum.level == 'High'"}], "layer": [
          {"mark": {"type": "rect", "color": "#a3cff7"}, "encoding": {"x": {"datum": 7}, "x2": {"datum": 49}, "y": {"datum": 3}, "y2": {"datum": 3.68}}},
          {"mark": {"type": "text", "align": "left", "baseline": "middle", "font": "DejaVu Sans", "fontSize": 19, "fontWeight": "bold", "color": "#1c1c30"}, "encoding": {"x": {"datum": 8.5}, "y": {"datum": 3.34}, "text": {"field": "lab"}}},
          {"mark": {"type": "text", "align": "left", "baseline": "middle", "font": "DejaVu Sans", "fontSize": 19, "fontWeight": "bold", "color": "#e82040"}, "encoding": {"x": {"datum": 21.6}, "y": {"datum": 3.34}, "text": {"field": "level"}}},
          {"mark": {"type": "text", "align": "right", "baseline": "middle", "font": "DejaVu Sans", "fontSize": 16, "color": "#333344"}, "encoding": {"x": {"datum": 47.3}, "y": {"datum": 3.34}, "text": {"field": "unit"}}},
          {"mark": {"type": "text", "angle": 270, "align": "center", "baseline": "middle", "font": "DejaVu Sans", "fontSize": 19, "fontWeight": "bold", "color": "#f02a2a"}, "encoding": {"x": {"datum": 4.65}, "y": {"datum": 0}, "text": {"value": "Lab Mean"}}},
          {"mark": {"type": "rect", "fill": "transparent", "stroke": "#000000", "strokeWidth": 2.6}, "encoding": {"x": {"datum": 7}, "x2": {"datum": 49}, "y": {"datum": -3}, "y2": {"datum": 3}}}
        ]}
      ]}
    ]}
  ]
}
